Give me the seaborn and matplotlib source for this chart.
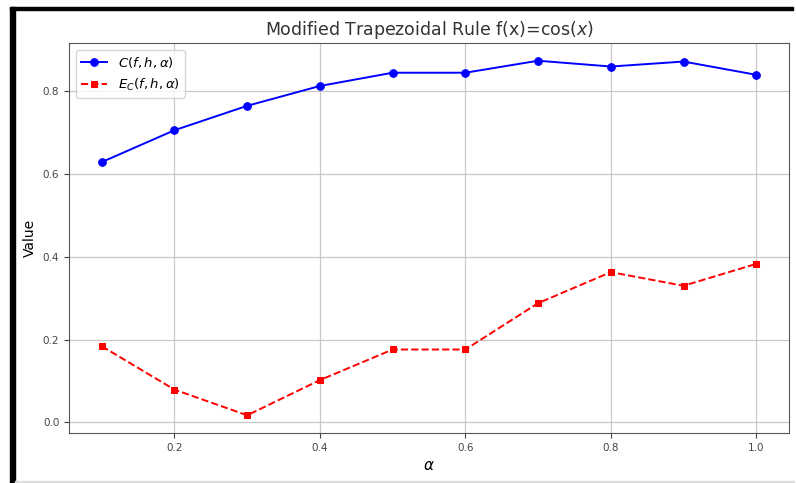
import seaborn as sns
import matplotlib.pyplot as plt
from matplotlib.patches import Rectangle

# data
alpha = [0.1, 0.2, 0.3, 0.4, 0.5, 0.6, 0.7, 0.8, 0.9, 1.0]
c_vals = [0.629, 0.706, 0.765, 0.813, 0.845, 0.845, 0.874, 0.860, 0.872, 0.840]
e_vals = [0.184, 0.079, 0.017, 0.102, 0.176, 0.176, 0.288, 0.363, 0.330, 0.383]
c_label = r'$C(f,h,\alpha)$'
e_label = r'$E_C(f,h,\alpha)$'

W, H = 796, 483
fig = plt.figure(figsize=(W / 100, H / 100), dpi=100)
ax = fig.add_axes([69 / W, 1 - 433 / H, 720 / W, 390 / H])

sns.lineplot(x=alpha, y=c_vals, ax=ax, color='blue', marker='o', markersize=5.5,
             markeredgecolor='blue', linewidth=1.4, label=c_label)
sns.lineplot(x=alpha, y=e_vals, ax=ax, color='red', marker='s', markersize=5,
             markeredgecolor='red', linestyle='--', linewidth=1.4, label=e_label)

ax.set_title('Modified Trapezoidal Rule f(x)=cos($x$)', fontsize=12.5, color='#333333')
ax.set_xlabel(r'$\alpha$', fontsize=11)
ax.set_ylabel('Value', fontsize=10)
ax.set_xticks([0.2, 0.4, 0.6, 0.8, 1.0])
ax.set_yticks([0.0, 0.2, 0.4, 0.6, 0.8])
ax.tick_params(labelsize=7.5, colors='#444444')
ax.grid(True, color='#c8c8c8', linewidth=0.9)
for s in ax.spines.values():
    s.set_color('#555555')
ax.legend(loc='upper left', fontsize=9.5, framealpha=0.8)

# screenshot frame around the figure
fig.patches.append(Rectangle((10 / W, 0), 5 / W, 1 - 7 / H, color='black',
                             transform=fig.transFigure, figure=fig))
fig.patches.append(Rectangle((10 / W, 1 - 10 / H), 783 / W, 3 / H, color='black',
                             transform=fig.transFigure, figure=fig))
fig.patches.append(Rectangle((15 / W, 1 / H), 779 / W, 1.2 / H, color='#dddddd',
                             transform=fig.transFigure, figure=fig))

fig.savefig('out.png', dpi=100)
